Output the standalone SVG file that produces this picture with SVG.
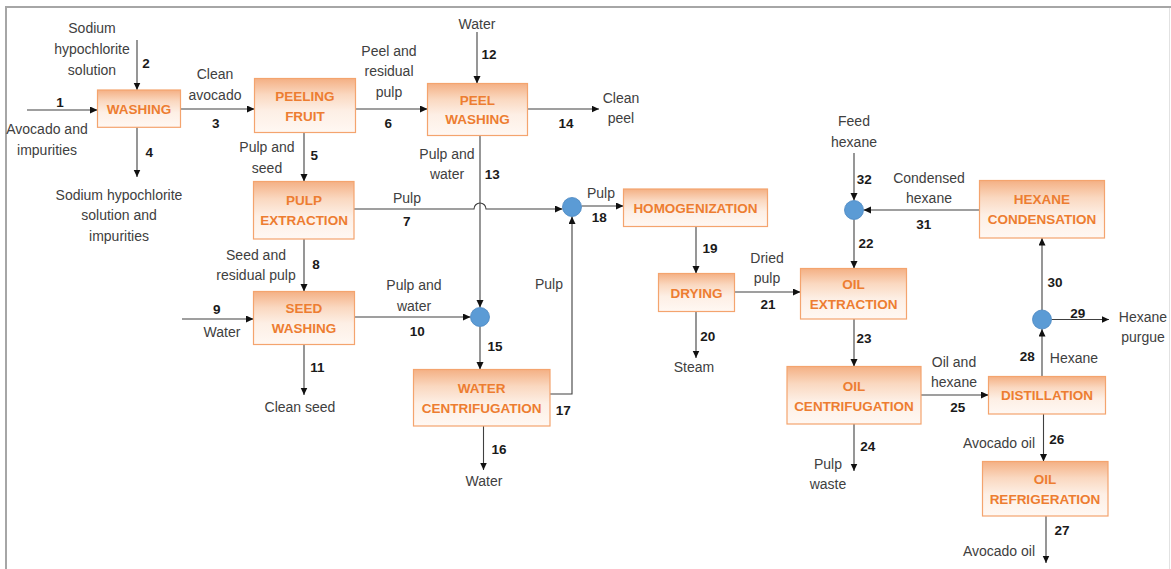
<svg xmlns="http://www.w3.org/2000/svg" width="1171" height="569" viewBox="0 0 1171 569">
<defs>
<linearGradient id="bg" x1="0" y1="0" x2="0" y2="1">
<stop offset="0" stop-color="#F4B084"/>
<stop offset="0.3" stop-color="#FAD8C0"/>
<stop offset="0.6" stop-color="#FDEFE5"/>
<stop offset="1" stop-color="#FFF8F3"/>
</linearGradient>
<marker id="ar" markerUnits="userSpaceOnUse" markerWidth="8" markerHeight="8" refX="7.5" refY="3.5" orient="auto">
<path d="M0,0 L7.5,3.5 L0,7 z" fill="#111"/>
</marker>
<style>
.box{fill:url(#bg);stroke:#F4A46E;stroke-width:1.2}
.bt{font-family:"Liberation Sans",Arial,sans-serif;font-weight:bold;font-size:13.5px;fill:#ED7D31;text-anchor:middle}
.lbl{font-family:"Liberation Sans",Arial,sans-serif;font-size:14px;fill:#404040;text-anchor:middle}
.num{font-family:"Liberation Sans",Arial,sans-serif;font-weight:bold;font-size:13.5px;fill:#1a1a1a;text-anchor:middle}
.c{fill:none;stroke:#404040;stroke-width:1.1;marker-end:url(#ar)}
.mix{fill:#5B9BD5;stroke:#4A86C0;stroke-width:0.8}
</style>
</defs>
<rect x="0" y="0" width="1171" height="569" fill="#fff"/>
<g id="frame">
<line x1="5" y1="7" x2="1171" y2="7" stroke="#A6A6A6" stroke-width="2"/>
<line x1="6" y1="7" x2="6" y2="569" stroke="#A6A6A6" stroke-width="2"/>
<line x1="1169.5" y1="8" x2="1169.5" y2="569" stroke="#E2E2E2" stroke-width="1"/>
</g>
<g id="connectors">
<path class="c" d="M27,110 H97.5"/>
<path class="c" d="M137,40 V90"/>
<path class="c" d="M137,127.3 V177"/>
<path class="c" d="M181,109 H254.5"/>
<path class="c" d="M355.5,109 H427.5"/>
<path class="c" d="M304,132.5 V181.5"/>
<path class="c" d="M477,32 V83.5"/>
<path class="c" d="M527.5,109 H599"/>
<path class="c" d="M480,135.5 V307.5"/>
<path class="c" d="M354,209 H474 A6,6 0 0 1 486,209 H562.5"/>
<path class="c" d="M581.5,206 H623.5"/>
<path class="c" d="M550,394 H572 V216.5"/>
<path class="c" d="M304,239 V291.5"/>
<path class="c" d="M182,319 H253.5"/>
<path class="c" d="M354.5,317 H470.5"/>
<path class="c" d="M304,344.5 V395"/>
<path class="c" d="M480,326.5 V369.5"/>
<path class="c" d="M483.5,426 V470"/>
<path class="c" d="M696,226.5 V273.5"/>
<path class="c" d="M696,311.5 V358"/>
<path class="c" d="M734.5,292 H800.5"/>
<path class="c" d="M854,153 V200.5"/>
<path class="c" d="M979.5,210 H863.5"/>
<path class="c" d="M854,219.5 V268.5"/>
<path class="c" d="M854,319 V366.5"/>
<path class="c" d="M854,424 V471"/>
<path class="c" d="M921,395 H988.5"/>
<path class="c" d="M1043.5,414 V461.5"/>
<path class="c" d="M1046,516 V563"/>
<path class="c" d="M1042,376.5 V329"/>
<path class="c" d="M1042,310 V238"/>
<path class="c" d="M1051.5,319.5 H1109"/>
</g>
<g id="mixer1"><circle class="mix" cx="572" cy="207" r="9.5"/></g>
<g id="mixer2"><circle class="mix" cx="480" cy="317" r="9.5"/></g>
<g id="mixer3"><circle class="mix" cx="854" cy="210" r="9.5"/></g>
<g id="mixer4"><circle class="mix" cx="1042" cy="319.5" r="9.5"/></g>
<g id="washing"><rect class="box" x="97.5" y="90" width="83" height="37.3"/><text class="bt" x="139" y="114.2">WASHING</text></g>
<g id="peeling"><rect class="box" x="254.5" y="78.5" width="101" height="54"/><text class="bt" x="305" y="100.6">PEELING</text><text class="bt" x="305" y="120.6">FRUIT</text></g>
<g id="pulpext"><rect class="box" x="253.5" y="181.5" width="100.5" height="57.5"/><text class="bt" x="304" y="204.9">PULP</text><text class="bt" x="304" y="224.9">EXTRACTION</text></g>
<g id="peelwash"><rect class="box" x="427.5" y="83.5" width="100" height="52"/><text class="bt" x="477.5" y="104.9">PEEL</text><text class="bt" x="477.5" y="124.2">WASHING</text></g>
<g id="homog"><rect class="box" x="623.5" y="189" width="144" height="37.5"/><text class="bt" x="695.5" y="213">HOMOGENIZATION</text></g>
<g id="drying"><rect class="box" x="658.5" y="273.5" width="76" height="38"/><text class="bt" x="696.5" y="298">DRYING</text></g>
<g id="seedwash"><rect class="box" x="253.5" y="291.5" width="101" height="53"/><text class="bt" x="304" y="313.2">SEED</text><text class="bt" x="304" y="333.2">WASHING</text></g>
<g id="watercent"><rect class="box" x="413.5" y="369.5" width="136.5" height="56.5"/><text class="bt" x="481.7" y="392.6">WATER</text><text class="bt" x="481.7" y="412.6">CENTRIFUGATION</text></g>
<g id="oilext"><rect class="box" x="800.5" y="268.5" width="106" height="50.5"/><text class="bt" x="853.5" y="289.2">OIL</text><text class="bt" x="853.5" y="308.9">EXTRACTION</text></g>
<g id="hexcond"><rect class="box" x="979.5" y="180.5" width="125" height="57.5"/><text class="bt" x="1042" y="204.2">HEXANE</text><text class="bt" x="1042" y="224.2">CONDENSATION</text></g>
<g id="oilcent"><rect class="box" x="787" y="366.5" width="134" height="57.5"/><text class="bt" x="854" y="390.6">OIL</text><text class="bt" x="854" y="410.6">CENTRIFUGATION</text></g>
<g id="distill"><rect class="box" x="988.5" y="376.5" width="117" height="37.5"/><text class="bt" x="1047" y="400.4">DISTILLATION</text></g>
<g id="oilref"><rect class="box" x="982.5" y="461.5" width="125.5" height="54.5"/><text class="bt" x="1045" y="484.2">OIL</text><text class="bt" x="1045" y="504.2">REFRIGERATION</text></g>
<g id="labels">
<text class="lbl" x="92" y="33">Sodium</text>
<text class="lbl" x="92" y="54">hypochlorite</text>
<text class="lbl" x="92" y="74.5">solution</text>
<text class="lbl" x="47" y="134">Avocado and</text>
<text class="lbl" x="47" y="154.7">impurities</text>
<text class="lbl" x="215" y="79">Clean</text>
<text class="lbl" x="215" y="99.7">avocado</text>
<text class="lbl" x="119" y="200">Sodium hypochlorite</text>
<text class="lbl" x="119" y="220.3">solution and</text>
<text class="lbl" x="119" y="240.7">impurities</text>
<text class="lbl" x="267" y="152.3">Pulp and</text>
<text class="lbl" x="267" y="172.7">seed</text>
<text class="lbl" x="389" y="56">Peel and</text>
<text class="lbl" x="389" y="76">residual</text>
<text class="lbl" x="389" y="96.7">pulp</text>
<text class="lbl" x="477" y="28.7">Water</text>
<text class="lbl" x="621" y="103">Clean</text>
<text class="lbl" x="621" y="123">peel</text>
<text class="lbl" x="447" y="159">Pulp and</text>
<text class="lbl" x="447" y="178.7">water</text>
<text class="lbl" x="407" y="203.3">Pulp</text>
<text class="lbl" x="601" y="197.7">Pulp</text>
<text class="lbl" x="256" y="260">Seed and</text>
<text class="lbl" x="256" y="280">residual pulp</text>
<text class="lbl" x="222" y="336.7">Water</text>
<text class="lbl" x="414" y="290">Pulp and</text>
<text class="lbl" x="414" y="310.7">water</text>
<text class="lbl" x="549" y="289.3">Pulp</text>
<text class="lbl" x="300" y="411.7">Clean seed</text>
<text class="lbl" x="484" y="486">Water</text>
<text class="lbl" x="767" y="263.3">Dried</text>
<text class="lbl" x="767" y="283.3">pulp</text>
<text class="lbl" x="694" y="372">Steam</text>
<text class="lbl" x="828" y="469.3">Pulp</text>
<text class="lbl" x="828" y="489">waste</text>
<text class="lbl" x="854" y="126.3">Feed</text>
<text class="lbl" x="854" y="146.7">hexane</text>
<text class="lbl" x="929" y="183.3">Condensed</text>
<text class="lbl" x="929" y="203.3">hexane</text>
<text class="lbl" x="1143" y="321.7">Hexane</text>
<text class="lbl" x="1143" y="341.7">purgue</text>
<text class="lbl" x="1074" y="362.7">Hexane</text>
<text class="lbl" x="954" y="367.3">Oil and</text>
<text class="lbl" x="954" y="387.3">hexane</text>
<text class="lbl" x="999" y="447.7">Avocado oil</text>
<text class="lbl" x="999" y="556.3">Avocado oil</text>
</g>
<g id="numbers">
<text class="num" x="60" y="106.6">1</text>
<text class="num" x="146" y="68.2">2</text>
<text class="num" x="215.7" y="127.9">3</text>
<text class="num" x="149.3" y="157.2">4</text>
<text class="num" x="314.3" y="159.9">5</text>
<text class="num" x="388.3" y="128.2">6</text>
<text class="num" x="406.7" y="225.6">7</text>
<text class="num" x="316" y="269.2">8</text>
<text class="num" x="216.7" y="313.9">9</text>
<text class="num" x="417.3" y="335.9">10</text>
<text class="num" x="317.3" y="371.6">11</text>
<text class="num" x="489" y="58.9">12</text>
<text class="num" x="492.3" y="179.2">13</text>
<text class="num" x="566" y="128.2">14</text>
<text class="num" x="495" y="350.6">15</text>
<text class="num" x="499" y="453.9">16</text>
<text class="num" x="563.3" y="414.9">17</text>
<text class="num" x="599.3" y="222.2">18</text>
<text class="num" x="710" y="253.2">19</text>
<text class="num" x="707.7" y="341.2">20</text>
<text class="num" x="768" y="308.9">21</text>
<text class="num" x="866" y="248.2">22</text>
<text class="num" x="864" y="342.9">23</text>
<text class="num" x="867.7" y="450.6">24</text>
<text class="num" x="957.7" y="412.2">25</text>
<text class="num" x="1056.7" y="443.6">26</text>
<text class="num" x="1062" y="534.9">27</text>
<text class="num" x="1027.3" y="360.6">28</text>
<text class="num" x="1077.7" y="318.2">29</text>
<text class="num" x="1055" y="286.6">30</text>
<text class="num" x="923.7" y="229.2">31</text>
<text class="num" x="864.3" y="183.9">32</text>
</g>
</svg>
